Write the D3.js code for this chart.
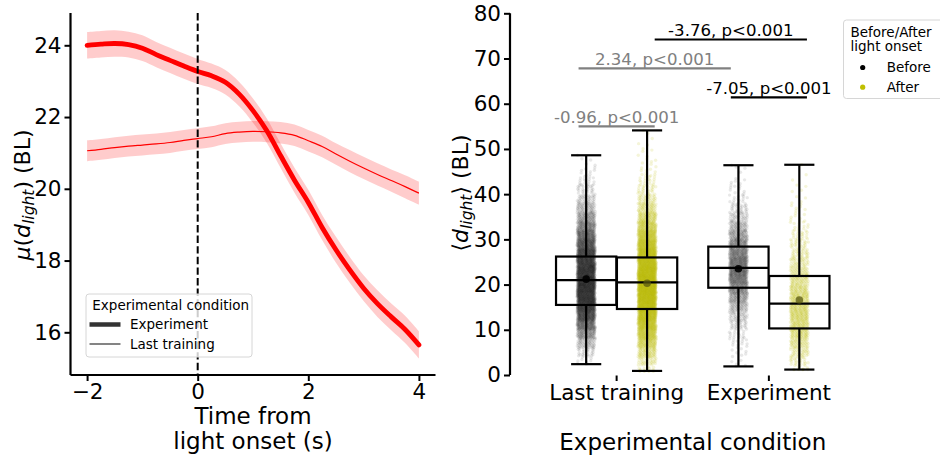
<!DOCTYPE html>
<html>
<head>
<meta charset="utf-8">
<script src="https://cdn.jsdelivr.net/npm/d3@7"></script>
<style>
  body { margin: 0; background: #fff; }
  svg { display: block; font-family: "DejaVu Sans", sans-serif; }
</style>
</head>
<body>
<svg id="chart" width="940" height="458"></svg>
<script>
// ---------- Left panel: mean distance to light over time ----------
const timeSec = [-2, -1.75, -1.5, -1.25, -1, -0.75, -0.5, -0.25, 0, 0.25, 0.5, 0.75, 1,
                 1.25, 1.5, 1.75, 2, 2.25, 2.5, 2.75, 3, 3.25, 3.5, 3.75, 4];
const experimentMean = [24.00, 24.03, 24.05, 24.02, 23.92, 23.74, 23.58, 23.42, 23.27, 23.15, 22.97, 22.64, 22.18,
                        21.62, 20.92, 20.24, 19.62, 18.92, 18.30, 17.74, 17.23, 16.80, 16.43, 16.08, 15.65];
const experimentCI = [0.37, 0.37, 0.37, 0.36, 0.36, 0.35, 0.35, 0.35, 0.35, 0.34, 0.34, 0.34, 0.34,
                      0.34, 0.34, 0.35, 0.35, 0.35, 0.36, 0.36, 0.36, 0.37, 0.37, 0.38, 0.38];
const lastTrainingMean = [21.06, 21.10, 21.15, 21.19, 21.22, 21.25, 21.29, 21.35, 21.40, 21.45, 21.54, 21.58, 21.60,
                          21.59, 21.56, 21.49, 21.34, 21.18, 20.97, 20.77, 20.58, 20.40, 20.23, 20.06, 19.88];
const lastTrainingCI = [0.29, 0.29, 0.29, 0.29, 0.29, 0.29, 0.29, 0.29, 0.29, 0.29, 0.29, 0.29, 0.29,
                        0.29, 0.30, 0.30, 0.30, 0.30, 0.30, 0.31, 0.31, 0.31, 0.31, 0.32, 0.32];
const timeTicks = [-2, 0, 2, 4];
const muTicks = [16, 18, 20, 22, 24];
const lineLegend = ["Experiment", "Last training"];

// ---------- Right panel: per-trial mean distance, before/after light onset ----------
const conditions = ["Last training", "Experiment"];
const phases = ["Before", "After"];
// groups in order: Last training/Before, Last training/After, Experiment/Before, Experiment/After
const groupCondition = [0, 0, 1, 1];
const groupPhase = [0, 1, 0, 1];
const whiskerLow = [2.4, 0.9, 1.9, 1.2];
const quartile1 = [15.5, 14.6, 19.3, 10.3];
const medians = [21.0, 20.5, 23.7, 15.8];
const quartile3 = [26.2, 26.0, 28.4, 21.9];
const whiskerHigh = [48.6, 54.1, 46.4, 46.5];
const means = [21.2, 20.3, 23.5, 16.6];
// trial counts per 2-BL bin (bin starts below)
const binStart = [0, 2, 4, 6, 8, 10, 12, 14, 16, 18, 20, 22, 24, 26, 28, 30, 32, 34, 36, 38, 40, 42, 44, 46, 48, 50, 52, 54];
const countsLastBefore = [0, 8, 25, 60, 110, 170, 230, 270, 300, 310, 310, 300, 280, 250, 210, 170, 130, 95, 65, 40, 25, 15, 8, 4, 1, 0, 0, 0];
const countsLastAfter = [15, 40, 70, 110, 150, 190, 230, 260, 280, 290, 290, 280, 260, 230, 200, 160, 120, 90, 60, 40, 25, 15, 10, 6, 4, 3, 2, 1];
const countsExpBefore = [1, 4, 7, 11, 17, 28, 42, 63, 91, 126, 154, 168, 161, 140, 119, 91, 63, 42, 25, 14, 8, 6, 3, 1, 0, 0, 0, 0];
const countsExpAfter = [10, 25, 40, 55, 70, 80, 85, 85, 80, 70, 60, 50, 40, 32, 25, 18, 12, 8, 6, 4, 3, 2, 1, 1, 0, 0, 0, 0];
const distTicks = [0, 10, 20, 30, 40, 50, 60, 70, 80];
// pairwise comparisons: label, span in category units, height in BL
const compLabels = ["-0.96, p<0.001", "2.34, p<0.001", "-7.05, p<0.001", "-3.76, p<0.001"];
const compFrom = [-0.25, -0.25, 0.75, 0.25];
const compTo = [0.25, 0.75, 1.25, 1.25];
const compHeight = [55.0, 67.8, 61.4, 74.2];

const svg = d3.select("#chart");
const RED = "#ff0000";
const TICK_FS = 21.5, LABEL_FS = 23, LEG_FS = 13.5;

// ===== Left panel =====
const xL = d3.scaleLinear().domain([-2.3, 4.3]).range([70.5, 435.5]);
const yL = d3.scaleLinear().domain([14.81, 24.9]).range([375, 13]);
const left = svg.append("g");

const area = (m, c) => d3.area().curve(d3.curveCatmullRom)
  .x((d, i) => xL(timeSec[i])).y0((d, i) => yL(m[i] - c[i])).y1((d, i) => yL(m[i] + c[i]));
const line = (m) => d3.line().curve(d3.curveCatmullRom)
  .x((d, i) => xL(timeSec[i])).y((d, i) => yL(m[i]));

left.append("path").datum(timeSec).attr("d", area(lastTrainingMean, lastTrainingCI))
  .attr("fill", RED).attr("fill-opacity", 0.2);
left.append("path").datum(timeSec).attr("d", line(lastTrainingMean))
  .attr("fill", "none").attr("stroke", RED).attr("stroke-width", 1.2);
left.append("path").datum(timeSec).attr("d", area(experimentMean, experimentCI))
  .attr("fill", RED).attr("fill-opacity", 0.2);
left.append("path").datum(timeSec).attr("d", line(experimentMean))
  .attr("fill", "none").attr("stroke", RED).attr("stroke-width", 4.8).attr("stroke-linecap", "round");

// light onset marker
left.append("line").attr("x1", xL(0)).attr("x2", xL(0)).attr("y1", 13).attr("y2", 375)
  .attr("stroke", "#000").attr("stroke-width", 2).attr("stroke-dasharray", "7.4,3.2");

// axes
const axL = left.append("g").attr("transform", "translate(70.5,0)")
  .call(d3.axisLeft(yL).tickValues(muTicks).tickFormat(d3.format("d")).tickSize(6).tickPadding(3));
const axB = left.append("g").attr("transform", "translate(0,375)")
  .call(d3.axisBottom(xL).tickValues(timeTicks).tickFormat(d3.format("d")).tickSize(6).tickPadding(3));
[axL, axB].forEach(a => {
  a.select(".domain").attr("stroke", "#000").attr("stroke-width", 2.2);
  a.selectAll(".tick line").attr("stroke", "#000").attr("stroke-width", 2);
  a.selectAll(".tick text").attr("font-size", TICK_FS).attr("font-family", "DejaVu Sans").attr("fill", "#000");
});
axL.select(".domain").attr("d", "M0,13V375");
axB.select(".domain").attr("d", "M70.5,0H435.5");

// axis labels
const xlab = left.append("text").attr("text-anchor", "middle").attr("font-size", LABEL_FS);
xlab.append("tspan").attr("x", 253).attr("y", 423.5).text("Time from");
xlab.append("tspan").attr("x", 253).attr("y", 448.5).text("light onset (s)");

const ylabL = left.append("text").attr("transform", "translate(30,195) rotate(-90)")
  .attr("text-anchor", "middle").attr("font-size", 22);
ylabL.append("tspan").attr("font-style", "italic").text("μ");
ylabL.append("tspan").text("(");
ylabL.append("tspan").attr("font-style", "italic").text("d");
ylabL.append("tspan").attr("font-style", "italic").attr("font-size", 15.5).attr("dy", 4).text("light");
ylabL.append("tspan").attr("dy", -4).text(")");
ylabL.append("tspan").text(" (BL)");

// legend
const legL = left.append("g");
legL.append("rect").attr("x", 86).attr("y", 294).attr("width", 166).attr("height", 63).attr("rx", 3)
  .attr("fill", "#fff").attr("fill-opacity", 0.8).attr("stroke", "#d6d6d6").attr("stroke-width", 1);
legL.append("text").attr("x", 92.3).attr("y", 309.5).attr("font-size", LEG_FS).text("Experimental condition");
lineLegend.forEach((name, i) => {
  const cy = 324.5 + i * 19.5;
  legL.append("line").attr("x1", 89.5).attr("x2", 120.5).attr("y1", cy).attr("y2", cy)
    .attr("stroke", "#333").attr("stroke-width", i === 0 ? 4.5 : 1.2);
  legL.append("text").attr("x", 130).attr("y", cy + 4.7).attr("font-size", LEG_FS).text(name);
});

// ===== Right panel =====
const xR = d3.scaleLinear().domain([-0.5, 1.5]).range([540.5, 845]);
const yR = d3.scaleLinear().domain([0, 80]).range([375, 13.3]);
const right = svg.append("g");
const phaseColor = ["#000000", "#bfbf00"];
const phaseOpacity = [0.09, 0.15];
const phaseOffset = [-0.2, 0.2];
const boxW = 0.396;
const groupCounts = [countsLastBefore, countsLastAfter, countsExpBefore, countsExpAfter];

// individual trials, jittered within each group
const pts = right.append("g");
groupCounts.forEach((counts, g) => {
  const cx = groupCondition[g] + phaseOffset[groupPhase[g]];
  let k = 0;
  counts.forEach((n, b) => {
    for (let j = 0; j < n; j++, k++) {
      const u = ((k + 1) * 0.7548776662 + g * 0.31) % 1;
      const v = ((k + 1) * 0.5698402910 + g * 0.17) % 1;
      const val = Math.max(whiskerLow[g], Math.min(whiskerHigh[g], binStart[b] + 2 * v));
      pts.append("circle")
        .attr("cx", xR(cx) + (u - 0.5) * 18)
        .attr("cy", yR(val))
        .attr("r", 1.7)
        .attr("fill", phaseColor[groupPhase[g]])
        .attr("fill-opacity", phaseOpacity[groupPhase[g]]);
    }
  });
});

// boxes
const boxes = right.append("g").attr("stroke", "#000").attr("stroke-width", 2.2).attr("fill", "none");
whiskerLow.forEach((lo, g) => {
  const c = groupCondition[g] + phaseOffset[groupPhase[g]];
  const x0 = xR(c - boxW / 2), x1 = xR(c + boxW / 2), xc = xR(c);
  const capHalf = (xR(boxW / 4) - xR(0));
  boxes.append("rect").attr("x", x0).attr("y", yR(quartile3[g]))
    .attr("width", x1 - x0).attr("height", yR(quartile1[g]) - yR(quartile3[g]));
  boxes.append("line").attr("x1", x0).attr("x2", x1).attr("y1", yR(medians[g])).attr("y2", yR(medians[g]));
  boxes.append("line").attr("x1", xc).attr("x2", xc).attr("y1", yR(quartile3[g])).attr("y2", yR(whiskerHigh[g]));
  boxes.append("line").attr("x1", xc).attr("x2", xc).attr("y1", yR(quartile1[g])).attr("y2", yR(lo));
  boxes.append("line").attr("x1", xc - capHalf).attr("x2", xc + capHalf).attr("y1", yR(whiskerHigh[g])).attr("y2", yR(whiskerHigh[g]));
  boxes.append("line").attr("x1", xc - capHalf).attr("x2", xc + capHalf).attr("y1", yR(lo)).attr("y2", yR(lo));
  right.append("circle").attr("cx", xc).attr("cy", yR(means[g])).attr("r", 3.8)
    .attr("fill", groupPhase[g] === 0 ? "#000" : "#5a5a10").attr("fill-opacity", groupPhase[g] === 0 ? 0.9 : 0.75);
});

// comparison bars
compLabels.forEach((lab, i) => {
  const col = i < 2 ? "#808080" : "#000";
  right.append("line").attr("x1", xR(compFrom[i])).attr("x2", xR(compTo[i]))
    .attr("y1", yR(compHeight[i])).attr("y2", yR(compHeight[i]))
    .attr("stroke", col).attr("stroke-width", 2.2);
  right.append("text").attr("x", xR((compFrom[i] + compTo[i]) / 2)).attr("y", yR(compHeight[i]) - 3.5)
    .attr("text-anchor", "middle").attr("font-size", 16.6).attr("fill", col).text(lab);
});

// axes
const axR = right.append("g").attr("transform", "translate(510,0)")
  .call(d3.axisLeft(yR).tickValues(distTicks).tickFormat(d3.format("d")).tickSize(6).tickPadding(3));
axR.select(".domain").attr("stroke", "#000").attr("stroke-width", 2.2).attr("d", `M0,${yR(80)}V${yR(0)}`);
axR.selectAll(".tick line").attr("stroke", "#000").attr("stroke-width", 2);
axR.selectAll(".tick text").attr("font-size", TICK_FS).attr("font-family", "DejaVu Sans").attr("fill", "#000");

conditions.forEach((name, c) => {
  right.append("line").attr("x1", xR(c)).attr("x2", xR(c)).attr("y1", 375.5).attr("y2", 381)
    .attr("stroke", "#000").attr("stroke-width", 2);
  right.append("text").attr("x", xR(c)).attr("y", 399.5).attr("text-anchor", "middle")
    .attr("font-size", TICK_FS).text(name);
});
right.append("text").attr("x", xR(0.5)).attr("y", 450).attr("text-anchor", "middle")
  .attr("font-size", LABEL_FS).text("Experimental condition");

const ylabR = right.append("text").attr("transform", "translate(468,193) rotate(-90)")
  .attr("text-anchor", "middle").attr("font-size", 22);
ylabR.append("tspan").text("⟨");
ylabR.append("tspan").attr("font-style", "italic").text("d");
ylabR.append("tspan").attr("font-style", "italic").attr("font-size", 15.5).attr("dy", 4).text("light");
ylabR.append("tspan").attr("dy", -4).text("⟩");
ylabR.append("tspan").text(" (BL)");

// phase legend
const legR = right.append("g");
legR.append("rect").attr("x", 843.5).attr("y", 20).attr("width", 110).attr("height", 78.5).attr("rx", 3)
  .attr("fill", "#fff").attr("fill-opacity", 0.8).attr("stroke", "#d6d6d6").attr("stroke-width", 1);
legR.append("text").attr("x", 850.5).attr("y", 36.7).attr("font-size", LEG_FS).text("Before/After");
legR.append("text").attr("x", 850.5).attr("y", 51).attr("font-size", LEG_FS).text("light onset");
phases.forEach((p, i) => {
  const cy = 67.5 + i * 19.7;
  legR.append("circle").attr("cx", 862.7).attr("cy", cy).attr("r", 2.6).attr("fill", phaseColor[i]);
  legR.append("text").attr("x", 886.7).attr("y", cy + 4.6).attr("font-size", LEG_FS).text(p);
});
</script>
</body>
</html>
